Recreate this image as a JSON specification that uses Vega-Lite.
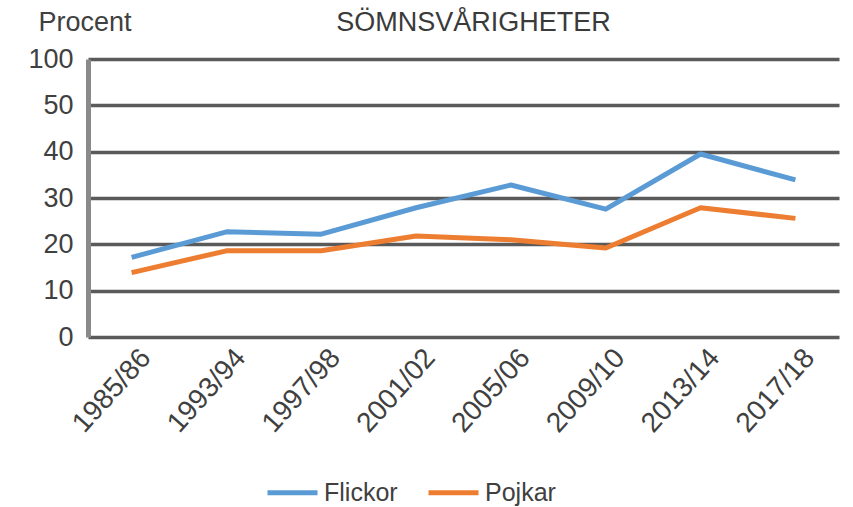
{
  "$schema": "https://vega.github.io/schema/vega-lite/v6.json",
  "width": 751,
  "height": 278,
  "autosize": {"type": "none"},
  "padding": {"left": 88, "top": 59, "right": 14, "bottom": 170},
  "background": "white",
  "title": {
    "text": "SÖMNSVÅRIGHETER",
    "font": "Liberation Sans",
    "fontSize": 27,
    "fontWeight": "normal",
    "color": "#3a3a3a",
    "anchor": "middle",
    "frame": "group",
    "baseline": "middle",
    "offset": -42,
    "dx": 10
  },
  "config": {
    "view": {"stroke": null},
    "font": "Liberation Sans",
    "axis": {
      "labelFont": "Liberation Sans",
      "labelFontSize": 27,
      "labelColor": "#404040",
      "ticks": false,
      "gridColor": "#5a5a5a",
      "gridWidth": 3.5,
      "gridOpacity": 1
    },
    "legend": {
      "labelFont": "Liberation Sans",
      "labelFontSize": 25,
      "labelColor": "#404040"
    }
  },
  "data": {
    "values": [
      {"period": "1985/86", "kon": "Flickor", "procent": 17.2},
      {"period": "1993/94", "kon": "Flickor", "procent": 22.7},
      {"period": "1997/98", "kon": "Flickor", "procent": 22.2},
      {"period": "2001/02", "kon": "Flickor", "procent": 27.9},
      {"period": "2005/06", "kon": "Flickor", "procent": 32.8},
      {"period": "2009/10", "kon": "Flickor", "procent": 27.6},
      {"period": "2013/14", "kon": "Flickor", "procent": 39.5},
      {"period": "2017/18", "kon": "Flickor", "procent": 33.9},
      {"period": "1985/86", "kon": "Pojkar", "procent": 13.9},
      {"period": "1993/94", "kon": "Pojkar", "procent": 18.6},
      {"period": "1997/98", "kon": "Pojkar", "procent": 18.6},
      {"period": "2001/02", "kon": "Pojkar", "procent": 21.8},
      {"period": "2005/06", "kon": "Pojkar", "procent": 21.0},
      {"period": "2009/10", "kon": "Pojkar", "procent": 19.2},
      {"period": "2013/14", "kon": "Pojkar", "procent": 27.9},
      {"period": "2017/18", "kon": "Pojkar", "procent": 25.6}
    ]
  },
  "mark": {"type": "line", "strokeWidth": 5, "strokeCap": "butt", "strokeJoin": "round"},
  "encoding": {
    "x": {
      "field": "period",
      "type": "ordinal",
      "scale": {"type": "point", "padding": 0.46},
      "axis": {
        "title": null,
        "domain": false,
        "grid": false,
        "labelAngle": -48,
        "labelFontSize": 28,
        "labelPadding": 16,
        "labelOffset": 14
      }
    },
    "y": {
      "field": "procent",
      "type": "quantitative",
      "scale": {"domain": [0, 60], "nice": false},
      "axis": {
        "values": [0, 10, 20, 30, 40, 50, 60],
        "labelExpr": "datum.value == 60 ? '100' : datum.label",
        "domain": true,
        "domainColor": "#8a8a8a",
        "domainWidth": 5,
        "labelPadding": 15,
        "title": "Procent",
        "titleAngle": 0,
        "titleAlign": "left",
        "titleBaseline": "middle",
        "titleX": -50,
        "titleY": -37,
        "titleFont": "Liberation Sans",
        "titleFontSize": 27,
        "titleFontWeight": "normal",
        "titleColor": "#404040"
      }
    },
    "color": {
      "field": "kon",
      "type": "nominal",
      "scale": {"domain": ["Flickor", "Pojkar"], "range": ["#5B9BD5", "#ED7D31"]},
      "legend": {
        "title": null,
        "orient": "none",
        "legendX": 177,
        "legendY": 406,
        "direction": "horizontal",
        "symbolType": "stroke",
        "symbolSize": 2500,
        "symbolStrokeWidth": 5,
        "columnPadding": 20,
        "labelOffset": 4
      }
    }
  }
}
